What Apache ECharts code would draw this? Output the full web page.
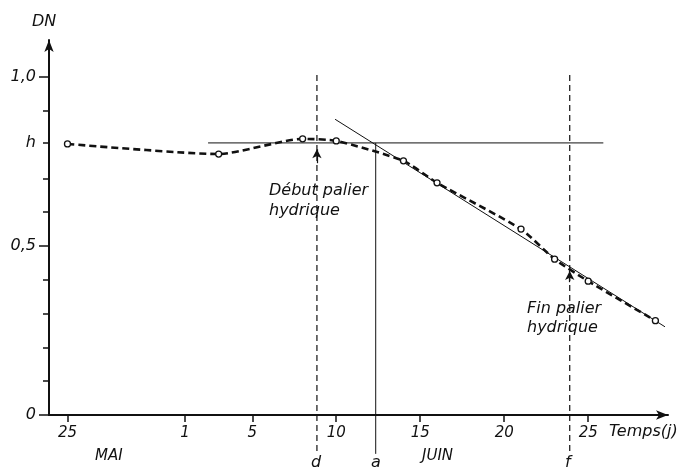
<!DOCTYPE html>
<html>
<head>
<meta charset="utf-8">
<script src="https://cdn.jsdelivr.net/npm/echarts@6/dist/echarts.min.js"></script>
<style>
html,body{margin:0;padding:0;background:#fff;}
#chart{width:699px;height:470px;}
</style>
</head>
<body>
<div id="chart"></div>
<script>
// Days counted from 1 June (31 May = 0, 25 May = -6)
var days = [-6, 3, 8, 10, 14, 16, 21, 23, 25, 29];
var dnValues = [0.802, 0.772, 0.817, 0.811, 0.752, 0.687, 0.550, 0.461, 0.396, 0.279];

var xTickDays = [-6, 1, 5, 10, 15, 20, 25];
var xTickLabels = ['25', '1', '5', '10', '15', '20', '25'];

var yLabelValues = [0, 0.5, 0.805, 1.0];
var yLabelTexts = ['0', '0,5', 'h', '1,0'];
var yMinorTicks = [0.1, 0.2, 0.3, 0.4, 0.6, 0.7, 0.805, 0.9];
var yMajorTicks = [0, 0.5, 1.0];

var hLevel = 0.805;
var hLineDays = [2.37, 25.9];
var tangentDays = [9.93, 29.57];
var tangentValues = [0.875, 0.261];
var dDay = 8.85, aDay = 12.35, fDay = 23.9;
var vTop = 1.006, vBottom = -0.115;

var ink = '#111';
var font = '"DejaVu Sans", sans-serif';

var chart = echarts.init(document.getElementById('chart'));

function pairs(xs, ys) { return xs.map(function (x, i) { return [x, ys[i]]; }); }

var option = {
  backgroundColor: '#fff',
  animation: false,
  grid: { left: 49, right: 31, top: 40, bottom: 55, containLabel: false },
  xAxis: {
    type: 'value', min: -7.1, max: 29.75,
    axisLine: { show: true, onZero: false, lineStyle: { color: ink, width: 2 }, symbol: ['none', 'arrow'], symbolSize: [7, 12] },
    axisTick: { show: true, customValues: xTickDays, length: 7, lineStyle: { color: ink, width: 1.5 } },
    axisLabel: {
      customValues: xTickDays, margin: 11,
      fontFamily: font, fontStyle: 'italic', fontSize: 15, color: ink,
      formatter: function (v) {
        var i = xTickDays.indexOf(Math.round(v));
        return i >= 0 ? xTickLabels[i] : '';
      }
    },
    splitLine: { show: false }
  },
  yAxis: [{
    type: 'value', min: 0, max: 1.1095, position: 'left', offset: 0,
    axisLine: { show: true, onZero: false, lineStyle: { color: ink, width: 2 }, symbol: ['none', 'arrow'], symbolSize: [7, 12] },
    axisTick: { show: true, customValues: yMinorTicks, length: 6, lineStyle: { color: ink, width: 1.5 } },
    axisLabel: {
      customValues: yLabelValues, margin: 13,
      fontFamily: font, fontStyle: 'italic', fontSize: 16, color: ink,
      formatter: function (v) {
        for (var i = 0; i < yLabelValues.length; i++) {
          if (Math.abs(yLabelValues[i] - v) < 1e-6) return yLabelTexts[i];
        }
        return '';
      }
    },
    splitLine: { show: false }
  }, {
    type: 'value', min: 0, max: 1.1095, position: 'left', offset: 0,
    axisLine: { show: false, onZero: false },
    axisTick: { show: true, customValues: yMajorTicks, length: 10, lineStyle: { color: ink, width: 1.5 } },
    axisLabel: { show: false },
    splitLine: { show: false }
  }],
  series: [
    {
      name: 'h', type: 'line', data: pairs(hLineDays, [hLevel, hLevel]),
      symbol: 'none', lineStyle: { color: ink, width: 1 }, z: 2
    },
    {
      name: 'tangent', type: 'line', data: pairs(tangentDays, tangentValues),
      symbol: 'none', lineStyle: { color: ink, width: 1 }, z: 2
    },
    {
      name: 'd', type: 'line', clip: false, data: [[dDay, vTop], [dDay, vBottom]],
      symbol: 'none', lineStyle: { color: ink, width: 1.2, type: [6, 4] }, z: 2,
      markLine: {
        silent: true, symbol: ['none', 'arrow'], symbolSize: [7, 9],
        label: { show: false },
        lineStyle: { color: ink, width: 1.2, type: 'solid' },
        data: [
          [{ coord: [dDay, 0.745] }, { coord: [dDay, 0.786] }],
          [{ coord: [fDay, 0.393] }, { coord: [fDay, 0.426] }]
        ]
      }
    },
    {
      name: 'f', type: 'line', clip: false, data: [[fDay, vTop], [fDay, vBottom]],
      symbol: 'none', lineStyle: { color: ink, width: 1.2, type: [6, 4] }, z: 2
    },
    {
      name: 'a', type: 'line', clip: false, data: [[aDay, hLevel], [aDay, vBottom]],
      symbol: 'none', lineStyle: { color: ink, width: 1 }, z: 2
    },
    {
      name: 'DN', type: 'line', data: pairs(days, dnValues), smooth: 0.2,
      symbol: 'circle', symbolSize: 6,
      itemStyle: { color: '#fff', borderColor: ink, borderWidth: 1.3 },
      lineStyle: { color: ink, width: 2.6, type: [7, 4] }, z: 5
    }
  ],
  graphic: [
    { type: 'text', left: 32, top: 14, style: { text: 'DN', font: 'italic 16px ' + font, fill: ink } },
    { type: 'text', left: 95, top: 449, style: { text: 'MAI', font: 'italic 15px ' + font, fill: ink } },
    { type: 'text', left: 422, top: 449, style: { text: 'JUIN', font: 'italic 15px ' + font, fill: ink } },
    { type: 'text', left: 609, top: 424, style: { text: 'Temps(j)', font: 'italic 16px ' + font, fill: ink } },
    { type: 'text', left: 311, top: 455, style: { text: 'd', font: 'italic 16px ' + font, fill: ink } },
    { type: 'text', left: 371, top: 455, style: { text: 'a', font: 'italic 16px ' + font, fill: ink } },
    { type: 'text', left: 565, top: 455, style: { text: 'f', font: 'italic 16px ' + font, fill: ink } },
    { type: 'text', left: 269, top: 181, style: { text: 'Début palier\nhydrique', font: 'italic 16px ' + font, fill: ink, lineHeight: 20 } },
    { type: 'text', left: 527, top: 299, style: { text: 'Fin palier\nhydrique', font: 'italic 16px ' + font, fill: ink, lineHeight: 19 } }
  ]
};
chart.setOption(option);
</script>
</body>
</html>
